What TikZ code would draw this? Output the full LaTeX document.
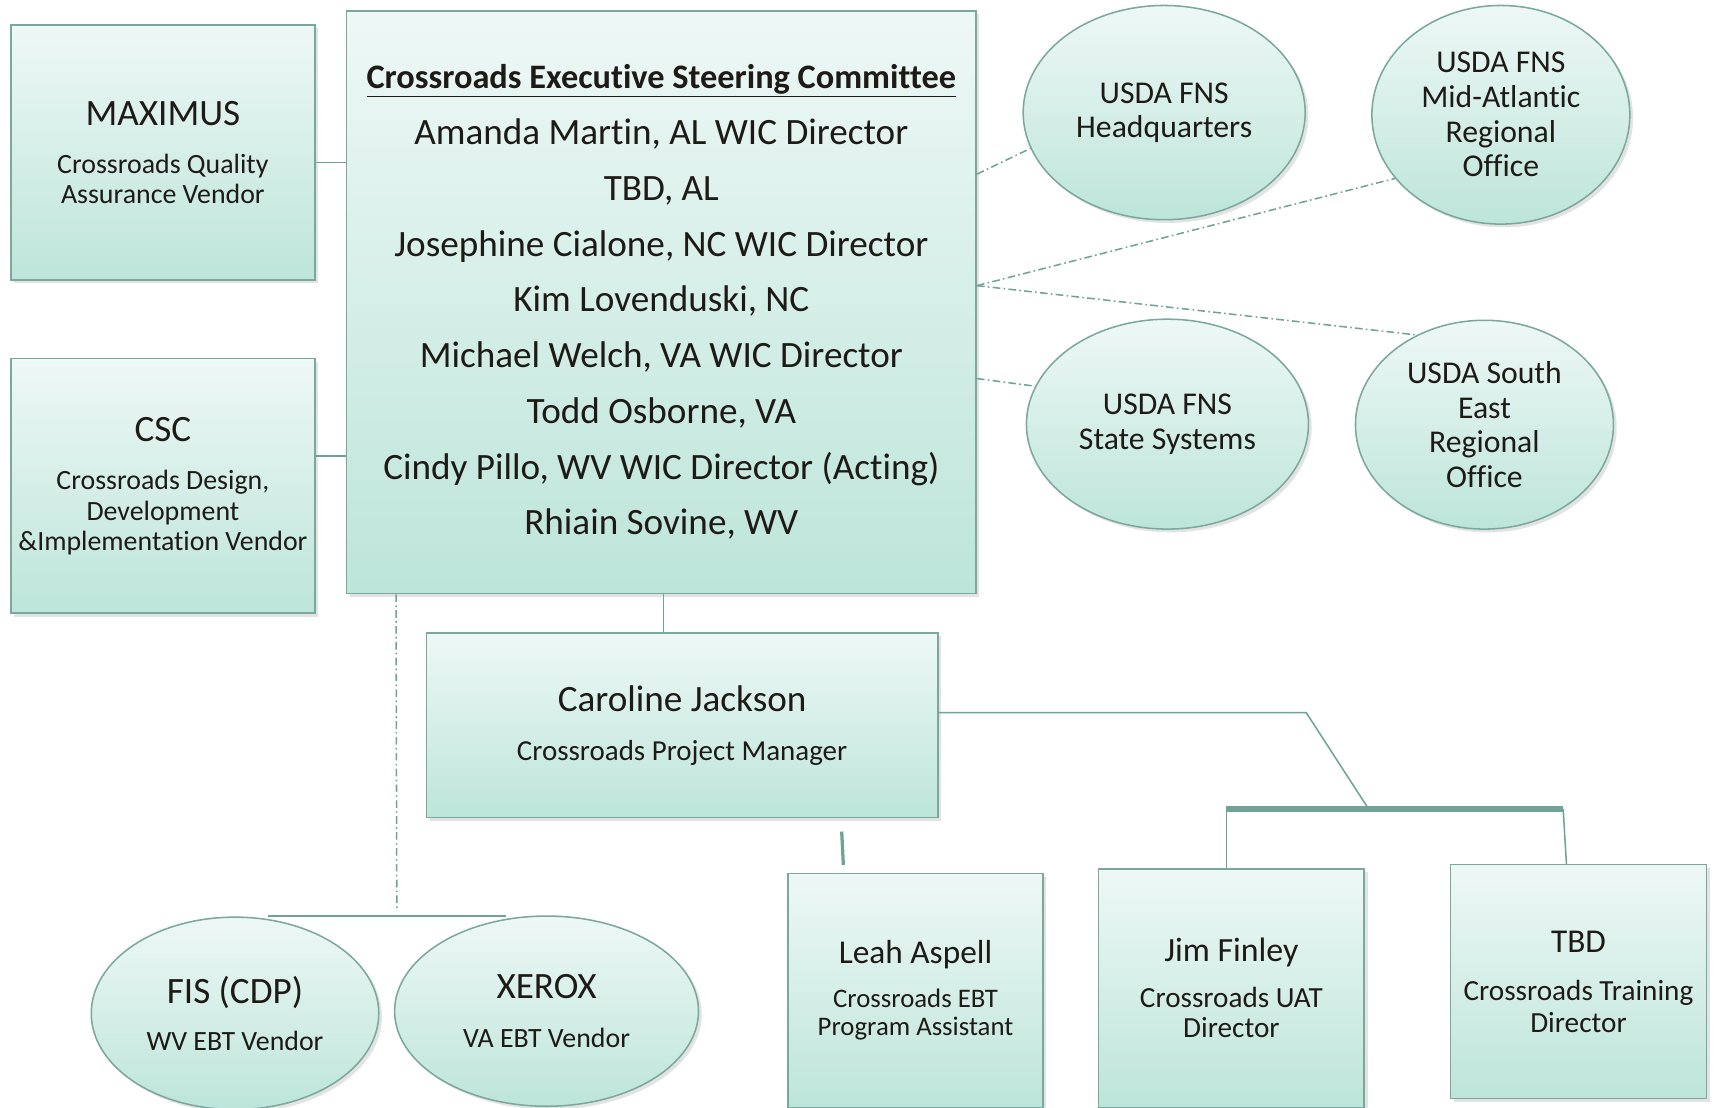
\documentclass[tikz,border=0pt]{standalone}
\usepackage{fontspec}
\setmainfont{Carlito}[Ligatures={NoCommon}]
\usepackage{tikz}
\usetikzlibrary{shapes.geometric}
\usetikzlibrary{shadows}

\definecolor{tealedge}{HTML}{7AA89E}
\definecolor{tealline}{HTML}{6FA397}
\definecolor{tealtop}{HTML}{EEF8F6}
\definecolor{tealbot}{HTML}{BDE5DA}
\definecolor{inkcol}{HTML}{1E1A16}

\newcommand{\bighead}{\fontsize{34}{40}\selectfont}
\newcommand{\midhead}{\fontsize{30.5}{36}\selectfont}

\tikzset{
  orgbox/.style={rectangle, draw=tealedge, line width=1.4pt, top color=tealtop,
    bottom color=tealbot, text=inkcol, align=center, inner sep=0pt,
    font=\fontsize{25.5}{28}\selectfont,
    drop shadow={shadow xshift=3pt, shadow yshift=-3pt, opacity=0.22}},
  orgoval/.style={orgbox, ellipse},
  ovaltext/.style={font=\fontsize{29}{31.7}\selectfont},
  link/.style={draw=tealline, line width=1.4pt},
  dotlink/.style={link, dash pattern=on 7pt off 3pt on 1.5pt off 3pt},
}

\begin{document}
\begin{tikzpicture}[x=1pt,y=-1pt]
  \useasboundingbox (0,0) rectangle (1568,1013);
  \clip (0,0) rectangle (1568,1013);

  % left vendors and steering committee
  \node[orgbox, minimum width=278pt, minimum height=233pt] (maximus) at (149,139.5)
    {{\bighead MAXIMUS}\\[15.7pt]Crossroads Quality\\Assurance Vendor};
  \node[orgbox, minimum width=278pt, minimum height=233pt, font=\fontsize{25.5}{27.5}\selectfont] (csc) at (149,444.5)
    {{\bighead CSC}\\[17pt]Crossroads Design,\\Development\\\&Implementation Vendor};
  \node[orgbox, minimum width=576pt, minimum height=533pt, font=\fontsize{34}{51}\selectfont] (esc) at (605,276.5)
    {{\fontsize{31.4}{51}\selectfont\bfseries\underline{Crossroads Executive Steering Committee}}\\
     Amanda Martin, AL WIC Director\\TBD, AL\\Josephine Cialone, NC WIC Director\\
     Kim Lovenduski, NC\\Michael Welch, VA WIC Director\\Todd Osborne, VA\\
     Cindy Pillo, WV WIC Director (Acting)\\Rhiain Sovine, WV};

  % USDA ovals
  \node[orgoval, ovaltext, minimum width=258pt, minimum height=196pt] (fnshq) at (1065,103)
    {USDA FNS\\Headquarters};
  \node[orgoval, ovaltext, minimum width=236pt, minimum height=200pt] (midatl) at (1373,105)
    {USDA FNS\\Mid-Atlantic\\Regional\\Office};
  \node[orgoval, ovaltext, minimum width=258pt, minimum height=192pt] (fnsstate) at (1068,388)
    {USDA FNS\\State Systems};
  \node[orgoval, ovaltext, minimum width=236pt, minimum height=191pt] (southeast) at (1358,388.5)
    {USDA South\\East\\Regional\\Office};

  % project manager and staff
  \node[orgbox, minimum width=468pt, minimum height=169pt, font=\fontsize{26.5}{28}\selectfont] (pm) at (624,663.5)
    {{\bighead Caroline Jackson}\\[17pt]Crossroads Project Manager};
  \node[orgbox, minimum width=233pt, minimum height=214pt, font=\fontsize{24.5}{26}\selectfont] (leah) at (837.5,906)
    {{\midhead Leah Aspell}\\[14.4pt]Crossroads EBT\\Program Assistant};
  \node[orgbox, minimum width=243pt, minimum height=218pt, font=\fontsize{26.7}{28}\selectfont] (uat) at (1126.5,904)
    {{\fontsize{31}{36}\selectfont Jim Finley}\\[13.7pt]Crossroads UAT\\Director};
  \node[orgbox, minimum width=234pt, minimum height=214pt, font=\fontsize{26.7}{29}\selectfont] (training) at (1444,898)
    {{\midhead TBD}\\[15pt]Crossroads Training\\Director};

  % EBT vendors
  \node[orgoval, minimum width=263pt, minimum height=176pt] (fis) at (215,927)
    {{\bighead FIS (CDP)}\\[15.6pt]WV EBT Vendor};
  \node[orgoval, minimum width=278pt, minimum height=174pt] (xerox) at (500,925)
    {{\bighead XEROX}\\[16.6pt]VA EBT Vendor};

  \coordinate (ebtleft) at (245,838);
  \coordinate (ebtright) at (463,838);
  \coordinate (ebtdrop) at (363,832);
  \coordinate (barleft) at (1122,740);
  \coordinate (barright) at (1430,740);
  \coordinate (bend) at (1195,652);

  % connectors
  \draw[link] ([yshift=-9pt]maximus.east) -- ([yshift=-9pt]maximus.east -| esc.west);
  \draw[link] ([yshift=27.5pt]csc.east) -- ([yshift=27.5pt]csc.east -| esc.west);
  \draw[link] ([xshift=2pt]esc.south) -- ([xshift=2pt]esc.south |- pm.north);
  \draw[dotlink] ([yshift=-150pt]esc.north east) -- (fnshq.195);
  \draw[dotlink] ([yshift=-252pt]esc.north east) -- (midatl.211);
  \draw[dotlink] ([yshift=-252pt]esc.north east) -- (southeast.127);
  \draw[dotlink] ([yshift=-337pt]esc.north east) -- (fnsstate.164);
  \draw[dotlink] ([xshift=46pt]esc.south west) -- (ebtdrop);
  \draw[link] (ebtleft) -- (ebtright);
  \draw[link] ([yshift=11.5pt]pm.east) -- (bend) -- (barleft -| 1252,0);
  \draw[link, line width=5pt] (barleft) -- (barright);
  \draw[link] (barleft) -- (barleft |- uat.north);
  \draw[link] (barright) -- ([xshift=-11pt]training.north);
  \draw[link, line width=3pt] ([xshift=146pt,yshift=-12pt]pm.south) -- ([xshift=-66pt,yshift=7pt]leah.north);
\end{tikzpicture}
\end{document}
